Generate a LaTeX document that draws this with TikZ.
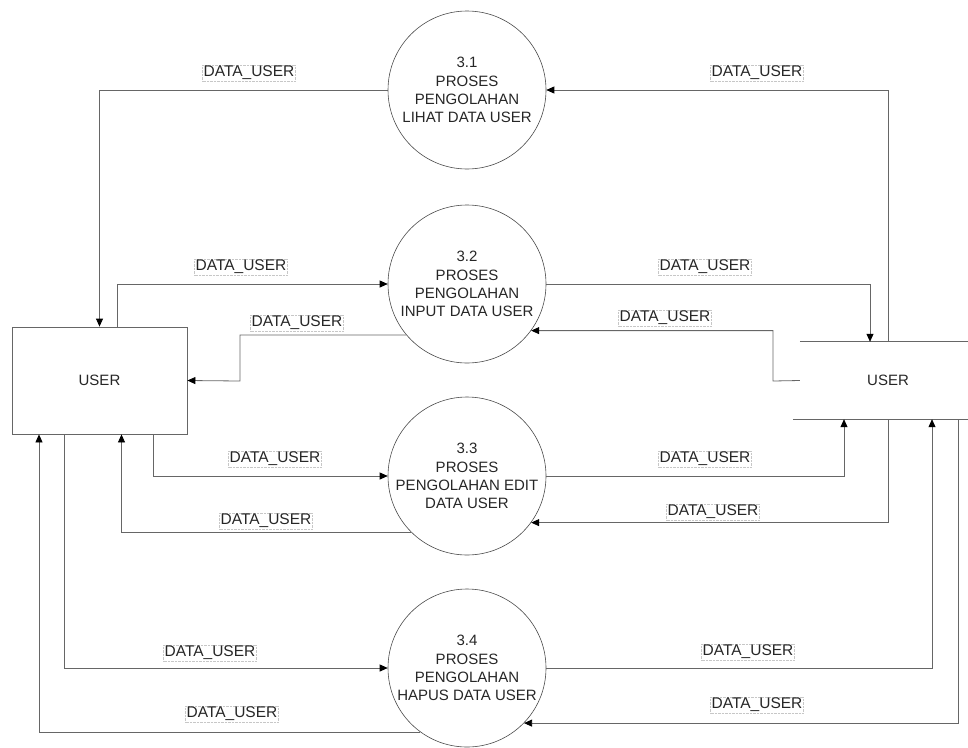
\documentclass[tikz,border=0pt]{standalone}
\usepackage{fontspec}
\setmainfont{Liberation Sans}
\usetikzlibrary{arrows.meta}
\begin{document}
\begin{tikzpicture}[x=1pt,y=-1pt,
  proc/.style={circle,draw=black!70,line width=0.6pt,minimum size=158pt,inner sep=0pt,
    align=center,font=\fontsize{15}{18.2}\selectfont,text=black!85},
  entity/.style={rectangle,inner sep=0pt,font=\fontsize{15}{18}\selectfont,text=black!85},
  flow/.style={draw=black!60,line width=0.8pt,-{Triangle[length=8pt,width=7pt,color=black]}},
  lbl/.style={draw=black!22,densely dotted,line width=0.4pt,inner sep=1pt,
    font=\fontsize{15.5}{16}\selectfont,text=black!85}]
\useasboundingbox (0,0) rectangle (968,747);

% processes
\node[proc] (p1) at (467,90)  {3.1\\PROSES\\PENGOLAHAN\\LIHAT DATA USER};
\node[proc] (p2) at (467,284) {3.2\\PROSES\\PENGOLAHAN\\INPUT DATA USER};
\node[proc] (p3) at (467,476) {3.3\\PROSES\\PENGOLAHAN EDIT\\DATA USER};
\node[proc] (p4) at (467,668) {3.4\\PROSES\\PENGOLAHAN\\HAPUS DATA USER};

% external entities
\node[entity,draw=black!60,line width=0.8pt,minimum width=175pt,minimum height=107pt] (u1) at (99.5,380.5) {USER};
\node[entity,minimum width=168pt,minimum height=77pt] (u2) at (884,380.5) {\hspace*{8pt}USER};
\draw[black!60,line width=0.8pt] (u2.north west) -- (u2.north east);
\draw[black!60,line width=0.8pt] ([xshift=-7pt]u2.south west) -- (u2.south east);

% bend points
\coordinate (k5) at (773,381);
\coordinate (k6) at (240,381);

% 3.1 lihat
\draw[flow] (p1.west) -| (u1.north);
\draw[flow] ([xshift=4pt]u2.north) |- (p1.east);
% 3.2 input
\draw[flow] ([xshift=18pt]u1.north) |- (p2.west);
\draw[flow] (p2.east) -| ([xshift=-14pt]u2.north);
\draw[flow] (u2.west) -- (k5) |- (p2.-36);
\draw[flow] (p2.220) -| (k6) -- (u1.east);
% 3.3 edit
\draw[flow] ([xshift=53.5pt]u1.south) |- (p3.west);
\draw[flow] (p3.east) -| ([xshift=-40pt]u2.south);
\draw[flow] ([xshift=4pt]u2.south) |- (p3.-36);
\draw[flow] (p3.225) -| ([xshift=22pt]u1.south);
% 3.4 hapus
\draw[flow] ([xshift=-35.5pt]u1.south) |- (p4.west);
\draw[flow] (p4.east) -| ([xshift=48pt]u2.south);
\draw[flow] ([xshift=74pt]u2.south) |- (p4.-44);
\draw[flow] (p4.234) -| ([xshift=-60.5pt]u1.south);

% flow labels
\node[lbl] (l1)  at (249,73)  {DATA\_USER};
\node[lbl] (l2)  at (757,73)  {DATA\_USER};
\node[lbl] (l3)  at (241,267) {DATA\_USER};
\node[lbl] (l4)  at (705,267) {DATA\_USER};
\node[lbl] (l5)  at (665,318) {DATA\_USER};
\node[lbl] (l6)  at (297,323) {DATA\_USER};
\node[lbl] (l7)  at (275,459) {DATA\_USER};
\node[lbl] (l8)  at (705,459) {DATA\_USER};
\node[lbl] (l9)  at (713,512) {DATA\_USER};
\node[lbl] (l10) at (266,521) {DATA\_USER};
\node[lbl] (l11) at (210,653) {DATA\_USER};
\node[lbl] (l12) at (748,652) {DATA\_USER};
\node[lbl] (l13) at (757,705) {DATA\_USER};
\node[lbl] (l14) at (232,714) {DATA\_USER};
\end{tikzpicture}
\end{document}
